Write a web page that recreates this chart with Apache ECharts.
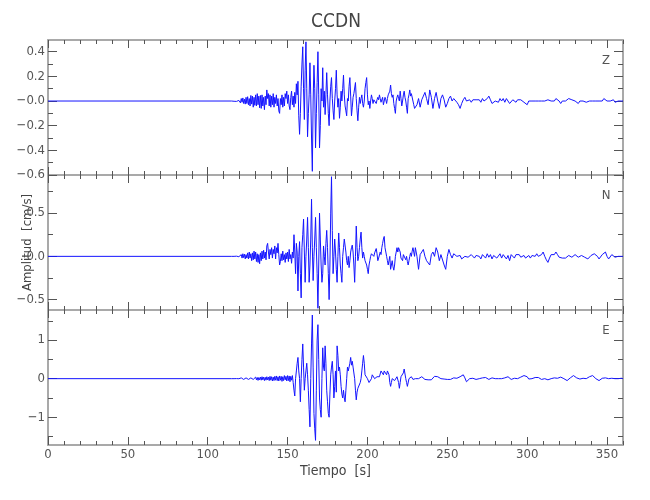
<!DOCTYPE html>
<html>
<head>
<meta charset="utf-8">
<script src="https://cdn.jsdelivr.net/npm/echarts@6/dist/echarts.min.js"></script>
<style>html,body{margin:0;padding:0;background:#fff}#c{width:650px;height:500px}</style>
</head>
<body>
<div id="c"></div>
<script>
// ---------- DATA ----------
const stationName = 'CCDN';
const componentNames = ['Z', 'N', 'E'];
const preEvent = [[0, 0]]; // flat trace before the onset

// early part: samples every 0.5 s starting at 115 s
const earlyStart = 115, earlyStep = 0.5;
// late part: samples every 1 s starting at 230 s
const lateStart = 230, lateStep = 1;

const zEarly = [
 0,0,0.002,-0.002,0,0.003,-0.003,0.002,-0.004,0.005,
 0.012,-0.015,0.02,-0.01,0.025,-0.02,0.015,-0.025,0.03,-0.02,
 0.035,-0.03,0.02,-0.04,0.045,-0.025,0.04,-0.05,0.03,-0.035,
 0.05,-0.04,0.06,-0.03,0.04,-0.055,0.045,-0.06,0.05,-0.04,
 0.03,-0.07,0.04,-0.03,0.09,0.02,0.06,-0.04,0.05,-0.05,
 0.04,-0.03,0.06,-0.05,0.03,-0.02,0.05,-0.04,0.02,-0.08,
 -0.1,0.02,-0.03,0.05,-0.05,0.03,-0.04,0.06,0.02,0.08,
 -0.02,0.05,-0.04,-0.07,0.03,0.08,-0.03,0.04,-0.05,0.07,
 -0.02,0.14,0.05,0.16,-0.12,-0.27,-0.1,0.12,0.3,0.44,
 0.1,-0.15,0.25,0.48,0.1,-0.29,-0.1,0.05,0.31,0.05,
 -0.3,-0.57,0.0,0.29,0.1,-0.38,-0.1,0.15,0.40,0.05,
 -0.38,-0.2,0.1,0.0,0.27,-0.05,0.08,-0.11,0.05,0.23,
 0.05,-0.1,-0.2,0.0,0.12,0.19,0.02,-0.08,-0.15,0.0,
 0.1,0.25,0.05,-0.05,0.02,-0.14,-0.05,0.08,0.0,0.1,
 0.21,0.05,-0.04,-0.08,-0.12,0.02,0.0,0.12,0.19,0.04,
 -0.12,-0.05,0.03,0.06,0.05,0.15,0.02,-0.08,-0.16,-0.05,
 0.03,-0.02,0.02,0.05,-0.02,-0.05,0.0,0.1,0.15,0.19,
 0.05,-0.03,0.0,-0.06,0.0,0.05,0.02,-0.02,0.01,0.0,
 0.02,-0.02,0.01,0.03,0.01,0.05,0.02,-0.01,0.0,0.03,
 -0.03,0.0,0.03,0.01,-0.02,0.02,0.05,0.04,0.08,0.13,
 0.06,0.03,0.05,-0.02,-0.06,-0.1,0.0,0.03,0.05,0.02,
 0.0,0.08,0.02,-0.04,0.0,0.05,0.08,0.03,0.0,-0.05,
 -0.1,0.02,0.05,0.09,0.04,0.06,0.05,0.0,-0.03,-0.06
];
const zLate = [
 -0.06,-0.03,0.02,-0.05,0.01,0.04,0.07,0.02,-0.03,0.09,
 0.03,-0.06,0.02,0.07,0.0,-0.06,0.02,0.05,0.01,-0.05,
 -0.02,0.02,0.04,0.0,0.02,0.03,-0.01,-0.03,-0.06,-0.02,
 0.01,0.03,0.0,0.01,0.01,-0.01,0.01,0.0,0.01,0.0,
 0.01,-0.01,0.02,0.0,0.01,0.02,0.04,0.01,-0.02,-0.03,
 0.0,0.01,-0.01,0.02,0.0,0.02,-0.01,0.02,0.0,-0.02,
 -0.03,0.01,0.02,-0.01,0.01,0.0,0.01,0.0,-0.01,0.0,
 -0.03,0.0,0.01,0.0,0.01,0.0,0.01,0.0,0.01,0.0,
 0.01,0.0,-0.01,0.01,0.01,0.0,-0.01,0.0,0.02,0.03,
 0.0,-0.02,0.0,0.01,0.0,0.01,0.02,0.02,0.01,0.02,
 0.0,-0.01,-0.02,0.0,0.01,0.0,0.01,-0.01,-0.02,0.0,
 0.01,0.0,0.01,0.0,-0.01,0.0,0.01,0.0,0.02,0.01,
 0.0,0.01,0.0,0.0,0.01,-0.01,0.0,0.0,0.0,0.0,0.0
];

const nEarly = [
 0,0.002,-0.002,0,0.003,-0.003,0.002,-0.003,0.004,-0.004,
 0.015,-0.01,0.02,-0.02,0.03,-0.015,0.025,-0.03,0.02,-0.02,
 0.04,-0.03,0.05,-0.02,0.03,-0.05,0.04,-0.04,0.06,-0.03,
 0.05,-0.06,0.03,-0.07,0.02,-0.085,0.04,-0.05,0.06,-0.03,
 0.07,-0.02,0.05,-0.04,0.12,0.15,0.05,-0.03,0.08,0.02,
 0.1,-0.02,0.08,0.03,0.12,-0.03,0.1,0.04,0.15,0.02,
 -0.1,-0.06,0.03,-0.05,0.06,-0.04,0.02,-0.07,0.04,-0.03,
 0.05,-0.06,0.08,-0.03,0.02,-0.08,0.05,-0.02,0.25,0.05,
 -0.2,0.15,0.05,-0.4,0.0,0.17,-0.2,-0.48,0.1,0.25,
 0.43,0.05,-0.3,0.0,0.2,0.45,0.1,-0.3,-0.1,0.2,
 0.66,0.1,-0.28,0.0,0.2,0.45,0.1,-0.2,-0.6,-0.1,
 0.5,0.2,-0.1,-0.3,-0.2,0.12,0.0,-0.1,0.15,0.3,
 0.1,-0.2,-0.5,-0.1,0.5,0.92,0.3,-0.2,0.0,0.2,
 0.05,-0.15,-0.3,0.0,0.27,0.1,-0.1,-0.2,-0.3,0.0,
 0.1,0.2,0.22,0.05,-0.05,-0.1,0.0,-0.13,-0.05,0.05,
 0.1,0.13,0.05,-0.1,-0.3,0.0,0.35,0.1,-0.05,0.0,
 0.1,0.2,0.28,0.1,-0.02,0.05,0.0,-0.05,-0.05,-0.1,
 -0.15,-0.2,-0.1,-0.05,0.0,0.03,0.05,0.02,0.0,0.04,
 0.06,0.09,0.03,-0.05,-0.02,0.0,0.05,0.02,0.1,0.15,
 0.2,0.23,0.1,0.05,0.0,-0.05,-0.1,-0.12,0.0,-0.15,
 -0.1,-0.05,-0.12,-0.16,-0.1,0.0,0.05,0.1,0.05,0.1,
 0.12,0.05,-0.02,0.0,-0.05,0.02,0.03,0.0,-0.04,0.0,
 -0.06,-0.1,-0.05,0.0,0.04,0.0,0.06,0.1,0.05,0.0
];
const nLate = [
 0.1,0.0,-0.15,0.02,0.05,0.08,0.0,-0.05,-0.03,-0.1,
 0.02,0.05,0.0,0.1,0.05,-0.05,0.02,0.0,-0.1,-0.15,
 0.0,0.08,0.02,-0.02,0.03,0.04,0.0,-0.02,0.01,-0.03,
 -0.05,0.0,0.02,-0.01,0.01,0.02,0.0,-0.02,0.01,0.03,
 0.0,-0.03,0.02,0.01,-0.02,0.03,-0.01,0.02,-0.03,0.01,
 0.03,-0.02,0.0,0.03,-0.02,0.02,0.0,-0.03,0.01,-0.05,
 0.02,0.01,-0.02,0.02,0.0,0.02,-0.01,0.0,0.01,-0.02,
 0.0,0.01,-0.02,0.01,0.02,0.0,0.03,0.0,-0.02,0.02,
 0.05,0.0,-0.04,-0.07,-0.02,0.02,0.03,0.02,0.05,0.02,
 -0.01,-0.03,-0.02,-0.04,-0.02,0.0,0.01,0.0,-0.01,0.01,
 0.02,0.0,-0.01,0.0,0.01,0.0,-0.01,-0.02,-0.03,-0.01,
 0.01,0.02,0.03,0.05,0.0,-0.03,-0.01,0.02,0.04,0.05,
 0.0,-0.03,-0.01,0.02,0.0,-0.01,0.01,0.0,0.01,0.0,0.0
];

const eEarly = [
 0,0.002,-0.002,0,0.003,-0.002,0.002,-0.003,0.003,-0.002,
 0.01,-0.015,0.02,-0.01,0.015,-0.02,0.01,-0.015,0.02,-0.02,
 0.03,-0.02,0.025,-0.03,0.02,-0.025,0.035,-0.02,0.03,-0.03,
 0.04,-0.03,0.03,-0.045,0.03,-0.03,0.04,-0.04,0.05,-0.03,
 0.04,-0.05,0.035,-0.04,0.05,-0.03,0.04,-0.05,0.06,-0.04,
 0.05,-0.06,0.04,-0.05,0.06,-0.04,0.07,-0.05,0.05,-0.06,
 0.07,-0.04,0.06,-0.07,0.05,-0.05,0.08,-0.03,0.06,-0.06,
 0.08,-0.05,0.07,-0.08,0.06,-0.04,0.08,-0.1,-0.3,-0.45,
 0.0,0.2,0.4,0.55,0.2,0.0,-0.6,0.0,0.5,0.9,
 0.3,-0.3,0.0,0.2,0.4,0.1,-0.3,-0.8,-1.25,0.0,
 0.9,1.65,0.3,-0.9,-1.3,-1.6,-0.3,1.0,1.4,0.5,
 -0.5,-0.8,-1.0,0.0,0.8,0.3,0.2,0.85,0.4,-0.3,
 -0.6,-0.9,-1.0,-0.4,0.1,0.3,0.45,0.1,-0.5,-0.2,
 0.2,-0.35,0.85,0.6,0.2,0.3,0.1,-0.2,-0.4,-0.5,
 -0.3,-0.5,-0.6,-0.3,0.0,0.3,0.2,0.25,0.4,0.55,
 0.35,0.45,0.3,0.35,0.0,-0.3,-0.55,-0.35,-0.25,-0.3,
 -0.25,-0.1,0.0,0.2,0.4,0.6,0.4,0.1,0.05,0.1,
 0.0,-0.05,-0.1,-0.15,-0.1,0.0,0.1,0.15,0.05,0.0,
 -0.05,0.0,0.05,0.02,0.0,0.05,0.1,0.2,0.25,0.15,
 0.1,0.2,0.25,0.15,0.1,0.2,0.25,0.1,-0.1,-0.2,
 -0.1,0.0,0.05,0.02,-0.05,-0.1,-0.05,0.05,0.0,-0.1,
 -0.25,-0.1,0.05,0.1,0.05,0.15,0.25,0.2,0.0,-0.1,
 -0.2,-0.15,0.0,0.05,0.02,0.05,0.0,-0.02,0.0,0.02
];
const eLate = [
 0.0,0.02,0.0,0.03,0.05,0.02,-0.02,-0.05,-0.03,-0.07,
 -0.03,0.02,0.06,0.1,0.05,0.0,0.0,-0.02,-0.01,-0.02,
 -0.02,-0.01,-0.02,0.0,0.02,0.03,0.01,0.0,0.05,0.08,
 0.1,0.02,-0.08,-0.05,0.0,0.03,0.01,0.0,-0.02,-0.02,
 0.0,0.01,0.02,0.0,0.03,0.01,-0.02,0.0,0.02,0.03,
 0.0,-0.03,0.0,0.01,0.0,-0.02,0.02,0.04,0.05,0.01,
 -0.02,0.0,0.01,-0.01,0.0,0.02,0.04,0.06,0.08,0.1,
 0.05,-0.01,-0.03,0.0,0.02,0.03,0.05,0.03,0.0,-0.02,
 -0.03,0.0,0.01,-0.03,-0.02,0.0,0.01,0.02,0.0,0.01,
 0.02,0.04,0.02,0.0,-0.03,-0.05,-0.02,0.02,0.05,0.08,
 0.06,0.02,-0.02,-0.01,0.0,0.01,-0.01,0.0,0.02,0.05,
 0.07,0.08,0.04,0.0,-0.03,-0.05,-0.02,0.01,0.03,0.02,
 -0.01,0.0,0.02,0.01,-0.01,0.0,0.02,0.0,0.0,0.01,0.0
];

// axis ticks
const xMajorTicks = [0, 50, 100, 150, 200, 250, 300, 350];
const xMinorTicks = [10,20,30,40,60,70,80,90,110,120,130,140,160,170,180,190,210,220,230,240,260,270,280,290,310,320,330,340,360];
const xTickLabels = ['0', '50', '100', '150', '200', '250', '300', '350'];

const zMajorTicks = [-0.6, -0.4, -0.2, 0, 0.2, 0.4];
const zMinorTicks = [-0.5, -0.3, -0.1, 0.1, 0.3];
const zTickLabels = ['\u22120.6', '\u22120.4', '\u22120.2', '\u22120.0', '0.2', '0.4'];
const nMajorTicks = [-0.5, 0, 0.5];
const nMinorTicks = [-0.25, 0.25, 0.75];
const nTickLabels = ['\u22120.5', '0.0', '0.5'];
const eMajorTicks = [-1, 0, 1];
const eMinorTicks = [-1.5, -0.5, 0.5, 1.5];
const eTickLabels = ['\u22121', '0', '1'];

const yRanges = [[-0.6, 0.495], [-0.62, 0.94], [-1.72, 1.78]];

// ---------- BUILD ----------
function buildTrace(early, late) {
  const pts = preEvent.slice();
  early.forEach((v, i) => pts.push([earlyStart + i * earlyStep, v]));
  late.forEach((v, i) => pts.push([lateStart + i * lateStep, v]));
  return pts;
}
const traces = [buildTrace(zEarly, zLate), buildTrace(nEarly, nLate), buildTrace(eEarly, eLate)];
const yMajor = [zMajorTicks, nMajorTicks, eMajorTicks];
const yMinor = [zMinorTicks, nMinorTicks, eMinorTicks];
const yLabels = [zTickLabels, nTickLabels, eTickLabels];

const FONT = "'DejaVu Sans Condensed', 'Liberation Sans Narrow', 'DejaVu Sans', sans-serif";
const frameColor = '#a9a9a9';
const tickColor = '#555';
const textColor = '#555';

const grids = [
  {left: 48, right: 27, top: 40, height: 135},
  {left: 48, right: 27, top: 175, height: 135},
  {left: 48, right: 27, top: 310, height: 135}
];

function labelFor(values, labels) {
  return function (v) {
    let best = 0, d = Infinity;
    values.forEach((t, i) => { const dd = Math.abs(t - v); if (dd < d) { d = dd; best = i; } });
    return d < 1e-6 ? labels[best] : '';
  };
}

const xAxes = [], yAxes = [];
for (let p = 0; p < 3; p++) {
  ['bottom', 'top'].forEach(pos => {
    xAxes.push({
      type: 'value', gridIndex: p, position: pos, min: 0, max: 360,
      axisLine: {show: true, onZero: false, lineStyle: {color: frameColor, width: 2}},
      axisTick: {show: true, inside: true, length: 8, customValues: xMajorTicks, lineStyle: {color: tickColor, width: 1}},
      axisLabel: {show: p === 2 && pos === 'bottom', customValues: xMajorTicks, formatter: labelFor(xMajorTicks, xTickLabels),
                  color: textColor, fontSize: 13, fontFamily: FONT, margin: 3},
      splitLine: {show: false},
      name: (p === 2 && pos === 'bottom') ? 'Tiempo  [s]' : '',
      nameLocation: 'middle', nameGap: 19, nameMoveOverlap: false,
      nameTextStyle: {color: '#444', fontSize: 14, fontFamily: FONT}
    });
  });
  ['bottom', 'top'].forEach(pos => {
    xAxes.push({
      type: 'value', gridIndex: p, position: pos, min: 0, max: 360,
      axisLine: {show: false, onZero: false},
      axisTick: {show: true, inside: true, length: 4, customValues: xMinorTicks, lineStyle: {color: tickColor, width: 1}},
      axisLabel: {show: false, customValues: xMinorTicks},
      splitLine: {show: false}
    });
  });
  ['left', 'right'].forEach(pos => {
    yAxes.push({
      type: 'value', gridIndex: p, position: pos, min: yRanges[p][0], max: yRanges[p][1],
      axisLine: {show: true, onZero: false, lineStyle: {color: frameColor, width: 2}},
      axisTick: {show: true, inside: true, length: 9, customValues: yMajor[p], lineStyle: {color: tickColor, width: 1}},
      axisLabel: {show: pos === 'left', customValues: yMajor[p], formatter: labelFor(yMajor[p], yLabels[p]),
                  color: textColor, fontSize: 13, fontFamily: FONT, margin: 3},
      splitLine: {show: false},
      name: (p === 1 && pos === 'left') ? 'Amplitud  [cm/s]' : '',
      nameLocation: 'middle', nameGap: 14, nameRotate: 90, nameMoveOverlap: false,
      nameTextStyle: {color: '#444', fontSize: 13, fontFamily: FONT}
    });
  });
  ['left', 'right'].forEach(pos => {
    yAxes.push({
      type: 'value', gridIndex: p, position: pos, min: yRanges[p][0], max: yRanges[p][1],
      axisLine: {show: false, onZero: false},
      axisTick: {show: true, inside: true, length: 5, customValues: yMinor[p], lineStyle: {color: tickColor, width: 1}},
      axisLabel: {show: false, customValues: yMinor[p]},
      splitLine: {show: false}
    });
  });
}

const series = traces.map((data, p) => ({
  type: 'line', xAxisIndex: p * 4, yAxisIndex: p * 4, data: data,
  showSymbol: false, symbol: 'none', smooth: false, sampling: null,
  lineStyle: {color: '#1414ff', width: 1}, z: 1
}));

const graphics = [
  {type: 'text', x: 336, y: 22, style: {text: stationName, fill: '#444', font: "19px " + FONT, textAlign: 'center', textVerticalAlign: 'middle'}}
];
componentNames.forEach((c, p) => {
  graphics.push({type: 'text', x: 606, y: grids[p].top + 21,
                 style: {text: c, fill: '#555', font: "13px " + FONT, textAlign: 'center', textVerticalAlign: 'middle'}});
});

const chart = echarts.init(document.getElementById('c'), null, {renderer: 'canvas'});
chart.setOption({
  animation: false,
  backgroundColor: '#fff',
  grid: grids,
  xAxis: xAxes,
  yAxis: yAxes,
  series: series,
  graphic: graphics
});
</script>
</body>
</html>
